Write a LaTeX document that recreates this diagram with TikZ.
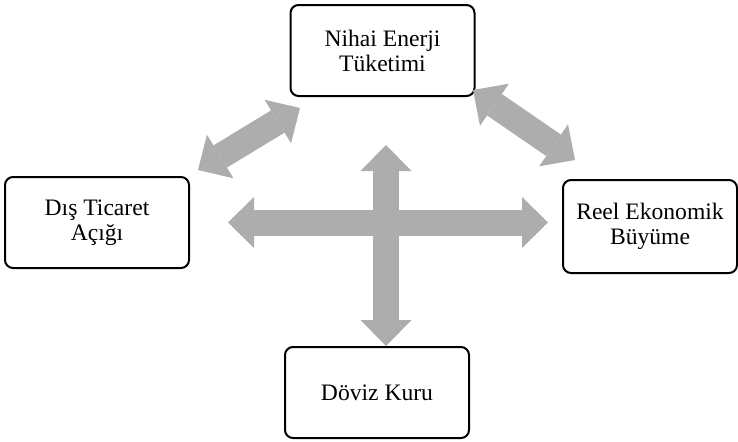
\documentclass[tikz,border=0pt]{standalone}
\usepackage{fontspec}
\setmainfont{Liberation Serif}
\usetikzlibrary{arrows.meta}
\definecolor{arrowgray}{RGB}{173,173,173}

\begin{document}
\begin{tikzpicture}[x=0.5pt,y=-0.5pt]
        \useasboundingbox (0,0) rectangle (738,441);

        \begin{scope}[every node/.style={draw=black,line width=1pt,rounded corners=4pt,fill=white,
                      align=center,inner sep=0pt,minimum width=92pt,minimum height=45.5pt,
                      font=\fontsize{11.8}{12.5}\selectfont}]
            \node (enerji) at (382.5,50.5) {Nihai Enerji\\Tüketimi};
            \node (ticaret) at (97,222.5) {Dış Ticaret\\Açığı};
            \node (buyume) [minimum width=87pt,minimum height=46.5pt] at (650,226.5) {Reel Ekonomik\\Büyüme};
            \node (doviz) at (377,392.5) {Döviz Kuru};
        \end{scope}

        \coordinate (V1) at (386,145);
        \coordinate (V2) at (386,346);
        \coordinate (H1) at (228,222.5);
        \coordinate (H2) at (548,222.5);
        \coordinate (L1) at (198,170);
        \coordinate (L2) at (300,108);
        \coordinate (R1) at (473,90);
        \coordinate (R2) at (575,160);

        \begin{scope}[>={Triangle[length=13pt,width=25.5pt,line width'=0pt]},
                      every edge/.style={draw=arrowgray,line width=13pt}]
            \path [<->] (L1) edge (L2);
            \path [<->] (R1) edge (R2);
            \path [<->] (H1) edge (H2);
            \path [<->] (V1) edge (V2);
        \end{scope}
    \end{tikzpicture}
\end{document}
